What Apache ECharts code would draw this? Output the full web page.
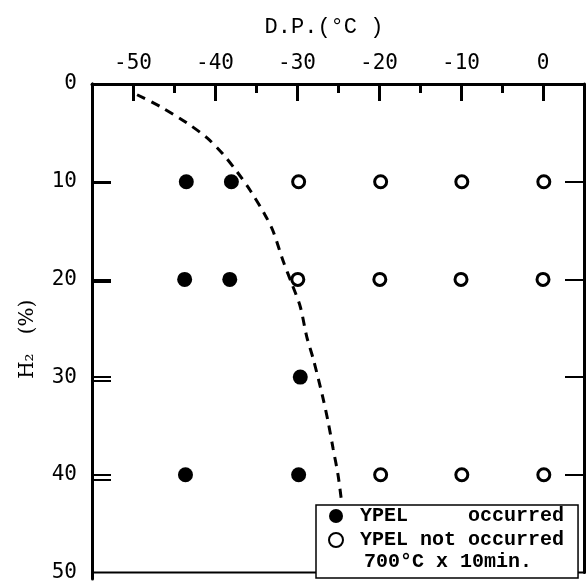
<!DOCTYPE html>
<html>
<head>
<meta charset="utf-8">
<script src="https://cdn.jsdelivr.net/npm/echarts@6/dist/echarts.min.js"></script>
<style>
  html, body { margin: 0; padding: 0; background: #fff; }
  #chart { width: 588px; height: 583px; }
</style>
</head>
<body>
<div id="chart"></div>
<script>
// tick values
var xTicks = [-50, -40, -30, -20, -10, 0];
var xMinorTicks = [-45, -35, -25, -15, -5];
var yInnerTicks = [10, 20, 30, 40];

// YPEL occurred (filled)
var occurredX = [-43.5, -38.0, -43.7, -38.2, -29.6, -43.6, -29.8];
var occurredY = [10, 10, 20, 20, 30, 40, 40];

// YPEL not occurred (open)
var notX = [-29.8, -19.8, -9.9, 0.1, -29.9, -19.9, -10.0, 0.0, -19.8, -9.9, 0.1];
var notY = [10, 10, 10, 10, 20, 20, 20, 20, 40, 40, 40];

// dashed boundary curve
var curveX = [-49.5, -46.7, -43.4, -41.0, -39.0, -37.3, -35.7, -33.9, -32.9, -31.7, -30.6, -29.6, -28.8, -28.0, -26.9, -26.2, -25.6, -25.0, -24.6];
var curveY = [1.1, 2.3, 4.0, 5.5, 7.2, 9.0, 10.9, 13.4, 15.1, 18.1, 20.5, 22.8, 25.9, 28.2, 31.9, 34.6, 37.3, 40.0, 42.5];

var legendNames = ["YPEL     occurred", "YPEL not occurred"];

function zip(a, b) {
  return a.map(function (v, i) { return [v, b[i]]; });
}

var chart = echarts.init(document.getElementById("chart"));
var tickFont = { color: "#000", fontFamily: "DejaVu Sans Mono", fontSize: 21 };

// inward ticks on the frame sides
function yTick(inside) {
  return { show: true, inside: inside, length: 19, lineStyle: { color: "#000", width: 2 }, customValues: yInnerTicks };
}

var option = {
  animation: false,
  backgroundColor: "#fff",
  grid: [
    { left: 92, right: 4, top: 84, bottom: 4, show: true, borderColor: "#000", borderWidth: 2 },
    // helper grid whose right edge is the left frame line, only for the left side ticks
    { left: 40, right: 496, top: 84, bottom: 4, show: false }
  ],
  xAxis: [
    {
      type: "value", position: "top", min: -55, max: 5, gridIndex: 0,
      name: "D.P.(°C )", nameLocation: "middle", nameGap: 46,
      nameTextStyle: { color: "#000", fontFamily: "Liberation Mono", fontSize: 22, padding: [0, 28, 0, 0] },
      axisLine: { show: true, onZero: false, lineStyle: { color: "#000", width: 3 } },
      axisTick: { show: true, inside: true, length: 17, lineStyle: { color: "#000", width: 3 }, customValues: xTicks },
      axisLabel: Object.assign({ margin: 10, customValues: xTicks }, tickFont),
      splitLine: { show: false }
    },
    {
      type: "value", position: "top", min: -55, max: 5, gridIndex: 0,
      axisLine: { show: false, onZero: false },
      axisTick: { show: true, inside: true, length: 9, lineStyle: { color: "#000", width: 3 }, customValues: xMinorTicks },
      axisLabel: { show: false },
      splitLine: { show: false }
    },
    {
      type: "value", gridIndex: 1, min: 0, max: 1, show: false
    }
  ],
  yAxis: [
    {
      type: "value", inverse: true, min: 0, max: 50, interval: 10, position: "left", gridIndex: 0,
      name: "H₂   (%)", nameLocation: "middle", nameGap: 54, nameRotate: 90,
      nameTextStyle: { color: "#000", fontFamily: "DejaVu Serif", fontSize: 20, padding: [0, 22, 0, 0] },
      axisLine: { show: true, onZero: false, lineStyle: { color: "#000", width: 3 } },
      axisTick: yTick(true),
      axisLabel: Object.assign({ margin: 15 }, tickFont),
      splitLine: { show: false }
    },
    {
      type: "value", inverse: true, min: 0, max: 50, interval: 10, position: "right", gridIndex: 0,
      axisLine: { show: true, onZero: false, lineStyle: { color: "#000", width: 3 } },
      axisTick: yTick(true),
      axisLabel: { show: false },
      splitLine: { show: false }
    },
    {
      type: "value", inverse: true, min: 0, max: 50, interval: 10, position: "right", gridIndex: 1,
      axisLine: { show: true, onZero: false, lineStyle: { color: "#000", width: 3 } },
      axisTick: yTick(false),
      axisLabel: { show: false },
      splitLine: { show: false }
    }
  ],
  legend: {
    data: legendNames,
    orient: "vertical",
    left: 316, top: 505,
    padding: [1, 14, 28, 12],
    itemGap: 4,
    itemWidth: 14, itemHeight: 14,
    backgroundColor: "#fff",
    borderColor: "#000", borderWidth: 1.5,
    textStyle: { color: "#000", fontFamily: "Liberation Mono", fontWeight: "bold", fontSize: 20, padding: [0, 0, 0, 12] }
  },
  graphic: [{
    type: "text", left: 364, top: 552, z: 100,
    style: { text: "700°C x 10min.", fill: "#000", font: "bold 20px 'Liberation Mono'" }
  }],
  series: [
    {
      type: "line", data: zip(curveX, curveY), smooth: 0.3, showSymbol: false, symbol: "none",
      lineStyle: { color: "#000", width: 3, type: [9, 7] }, silent: true, z: 1
    },
    {
      name: legendNames[0], type: "scatter", data: zip(occurredX, occurredY),
      symbol: "circle", symbolSize: 15, itemStyle: { color: "#000", opacity: 1 }, z: 3
    },
    {
      name: legendNames[1], type: "scatter", data: zip(notX, notY),
      symbol: "circle", symbolSize: 12,
      itemStyle: { color: "#fff", borderColor: "#000", borderWidth: 3, opacity: 1 }, z: 3
    }
  ]
};
chart.setOption(option);
</script>
</body>
</html>
